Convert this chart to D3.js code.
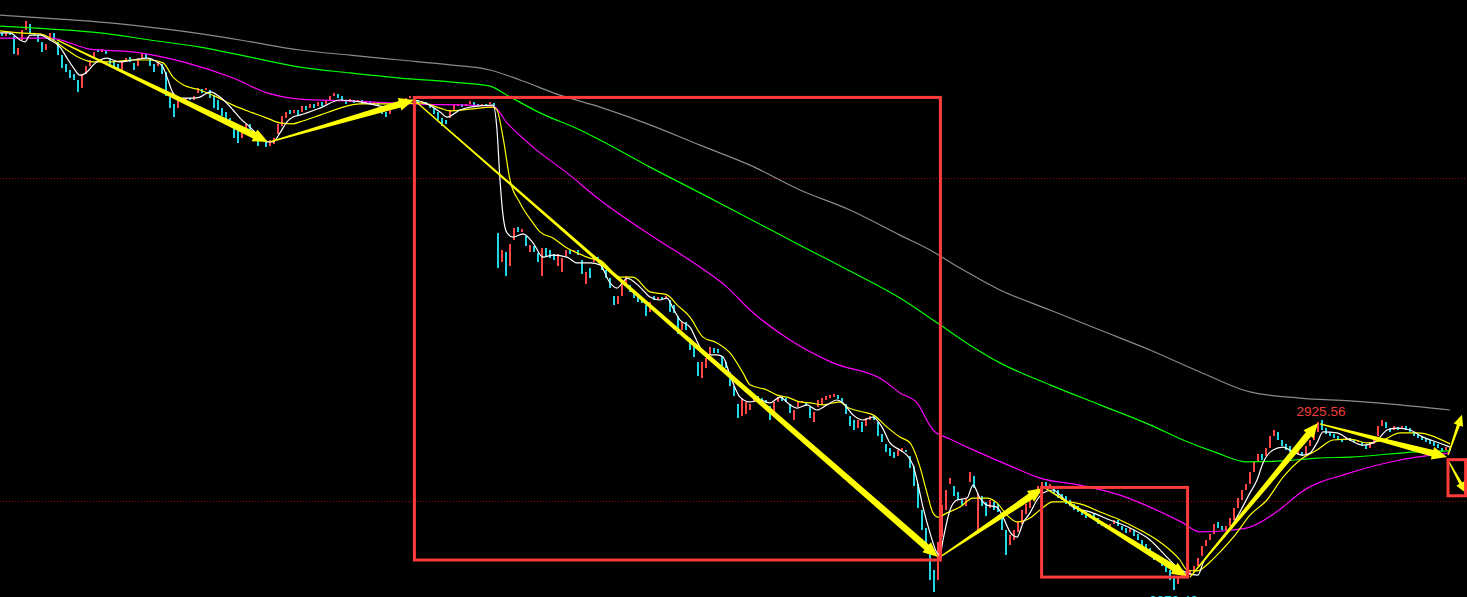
<!DOCTYPE html>
<html><head><meta charset="utf-8">
<script src="https://cdn.jsdelivr.net/npm/d3@7"></script>
<style>html,body{margin:0;padding:0;background:#000;overflow:hidden}</style>
</head><body>
<svg id="chart" width="1467" height="597"></svg>
<script>
// ---- candle data (one bar per index) ----
const opens = [
3045.1,3044.1,3045.1,3044.1,3038.2,3042.9,3046.0,3047.9,3045.1,3044.4,
3042.3,3039.8,3042.9,3045.1,3042.3,3038.2,3035.5,3033.6,3032.4,3030.5,
3028.0,3032.4,3034.8,3037.3,3039.8,3039.2,3039.8,3037.3,3036.1,3035.5,
3033.6,3036.1,3037.6,3035.8,3034.8,3037.3,3038.6,3037.3,3035.5,3034.8,
3035.5,3033.0,3025.2,3023.1,3021.8,3024.6,3024.3,3024.9,3024.3,3026.5,
3027.7,3027.4,3027.4,3025.8,3024.3,3021.8,3020.6,3018.7,3016.9,3015.0,
3012.5,3015.0,3016.9,3014.4,3013.1,3011.9,3011.9,3010.0,3010.7,3013.8,
3016.2,3018.7,3021.2,3020.3,3021.2,3020.6,3022.4,3021.8,3023.1,3022.4,
3023.7,3023.1,3024.3,3025.5,3026.2,3025.5,3024.3,3023.7,3024.3,3023.7,
3024.3,3023.4,3024.0,3023.1,3023.7,3022.4,3020.6,3020.0,3022.4,3023.7,
3023.1,3024.3,3024.9,3025.5,3024.3,3023.4,3023.7,3022.7,3021.8,3020.6,
3018.7,3018.1,3018.7,3021.2,3022.4,3023.1,3022.4,3023.1,3023.7,3023.1,
3022.4,3023.1,3023.1,3023.4,
2983.1,2974.1,2977.2,2972.8,2980.9,2984.9,
2983.4,2982.1,2977.2,2979.0,2976.9,2969.7,2978.4,2977.8,2976.6,2972.8,
2971.0,2975.9,2977.8,2977.2,2977.8,2974.7,2967.3,2972.2,2974.1,2975.6,
2974.1,2971.6,2969.1,2963.5,2961.1,2963.5,2967.6,2966.9,2964.8,2963.5,
2962.9,2960.7,2958.6,2963.5,2962.3,2963.2,2962.6,2962.3,2960.7,2957.3,
2953.0,2955.5,2950.5,2948.3,2943.1,2938.1,2941.2,2945.6,2947.4,2947.1,
2944.9,2943.1,2940.0,2935.6,2930.1,2926.3,2927.0,2928.2,2930.7,2932.5,
2931.9,2931.3,2929.4,2927.0,2930.7,2932.2,2931.9,2930.1,2925.1,2929.1,
2930.4,2930.7,2929.1,2924.5,2929.1,2930.1,2931.3,2931.9,2932.2,2932.8,
2931.9,2930.1,2926.3,2925.1,2922.6,2924.5,2923.2,2925.1,2926.3,2924.5,
2920.8,2917.7,2916.4,2915.2,2913.9,2915.2,2915.8,2913.9,2910.8,2905.3,
2897.2,2891.6,2885.4,2878.6,2875.5,2888.8,2897.2,2905.3,2904.6,2902.8,
2900.3,2898.4,2905.9,2907.7,2891.0,2901.5,2899.7,2897.8,2899.7,2899.1,
2895.3,2891.0,2886.3,2887.9,2890.4,2892.9,2896.0,2897.8,2900.9,2902.2,
2904.6,2905.9,2904.0,2904.6,2903.4,2902.2,2901.5,2900.3,2899.1,2898.4,
2897.2,2896.6,2894.7,2896.0,2894.7,2893.5,2892.9,2891.6,2892.9,2894.1,
2892.2,2891.6,2890.4,2891.0,2889.8,2887.9,2886.7,2885.4,2882.9,2881.7,
2882.3,2880.5,2878.6,2876.1,2874.3,2876.4,2876.7,2877.0,2878.0,2879.8,
2882.9,2886.0,2887.9,2889.8,2893.5,2892.2,2891.0,2892.2,2894.1,2897.8,
2900.3,2903.4,2905.3,2909.0,2912.1,2914.6,2913.9,2916.4,2920.1,2921.4,
2918.9,2917.7,2917.0,2915.8,2914.6,2915.2,2914.6,2917.0,2918.9,2921.4,
2925.1,2922.6,2921.4,2920.8,2920.1,2918.9,2918.9,2919.5,2918.9,2918.3,
2918.3,2917.3,2916.4,2917.7,2920.1,2923.2,2924.5,2922.6,2922.0,2922.9,
2922.6,2923.2,2922.6,2921.4,2920.8,2920.1,2919.5,2918.9,2918.3,2917.7,
2916.4,2915.8,2916.4];
const closes = [
3044.1,3045.1,3044.4,3038.6,3040.4,3046.0,3048.8,3044.8,3044.4,3042.3,
3039.2,3041.7,3045.1,3042.9,3038.2,3034.2,3033.0,3031.1,3030.5,3026.8,
3032.4,3034.8,3036.7,3039.2,3039.2,3040.1,3038.6,3034.8,3034.2,3033.6,
3036.1,3037.3,3036.1,3033.6,3037.3,3038.9,3037.3,3034.8,3033.0,3036.1,
3032.4,3025.5,3021.8,3019.0,3024.9,3023.7,3024.9,3024.3,3025.5,3028.0,
3026.5,3028.0,3024.9,3021.8,3021.2,3019.3,3017.5,3016.9,3012.5,3011.0,
3015.6,3016.9,3015.0,3011.9,3010.0,3013.1,3009.7,3011.9,3012.5,3016.9,
3019.3,3020.6,3020.0,3021.2,3019.6,3022.4,3021.2,3023.1,3021.8,3023.7,
3022.4,3024.3,3025.5,3026.5,3024.9,3024.3,3023.1,3024.6,3023.4,3024.3,
3023.1,3024.0,3023.1,3023.7,3022.4,3020.0,3019.0,3022.4,3023.7,3023.1,
3024.3,3024.9,3025.5,3024.3,3023.4,3024.0,3022.7,3021.8,3020.0,3018.1,
3016.2,3016.9,3021.2,3022.7,3023.1,3022.1,3023.1,3024.0,3022.7,3022.4,
3023.1,3022.4,3023.7,3022.1,
2972.2,2977.8,2969.7,2979.7,2984.6,2983.4,
2984.3,2979.0,2979.3,2977.2,2974.1,2978.4,2975.9,2975.3,2974.7,2976.6,
2975.3,2977.8,2976.6,2977.8,2976.2,2970.4,2971.0,2969.1,2975.3,2974.1,
2971.6,2969.1,2966.0,2960.7,2963.5,2967.6,2969.7,2964.8,2962.9,2961.7,
2961.4,2957.3,2961.7,2962.3,2963.2,2962.3,2963.5,2958.6,2958.3,2951.8,
2955.5,2953.0,2946.8,2944.6,2938.7,2943.1,2944.3,2947.7,2945.9,2945.9,
2941.8,2941.2,2935.6,2932.5,2925.7,2931.9,2930.7,2930.1,2933.2,2931.3,
2930.4,2930.4,2925.1,2930.7,2932.2,2931.0,2930.7,2927.3,2928.2,2930.7,
2931.0,2929.4,2925.7,2927.6,2931.3,2931.9,2932.5,2932.8,2933.2,2931.6,
2930.7,2927.0,2923.2,2922.0,2925.1,2921.4,2925.7,2926.3,2925.1,2920.1,
2918.3,2915.2,2913.9,2913.3,2915.8,2916.4,2915.2,2910.2,2904.6,2897.8,
2891.0,2884.2,2875.5,2871.8,2887.3,2898.7,2903.4,2907.1,2901.5,2900.3,
2898.7,2900.9,2909.0,2904.0,2902.2,2898.4,2895.3,2900.3,2897.2,2896.6,
2891.0,2883.2,2889.4,2891.0,2893.5,2897.2,2899.1,2900.3,2903.4,2904.6,
2905.9,2904.0,2905.3,2902.2,2900.9,2900.3,2899.1,2898.4,2897.2,2896.6,
2895.6,2894.7,2896.0,2894.1,2892.9,2892.2,2891.6,2892.9,2894.1,2892.2,
2891.0,2890.1,2891.6,2889.1,2887.9,2886.0,2884.2,2882.9,2881.7,2882.9,
2879.8,2878.0,2875.5,2872.4,2876.7,2877.4,2877.7,2878.6,2879.8,2882.3,
2886.0,2887.9,2889.8,2892.9,2891.6,2891.0,2892.2,2894.7,2897.8,2900.9,
2903.4,2905.3,2909.0,2912.1,2914.6,2912.7,2916.4,2920.1,2922.0,2918.9,
2917.0,2915.8,2915.2,2914.6,2916.4,2913.9,2917.0,2918.9,2921.4,2924.5,
2922.0,2920.8,2920.1,2919.5,2918.9,2918.3,2919.5,2918.6,2918.3,2918.9,
2917.0,2916.1,2918.3,2919.5,2923.2,2925.1,2922.6,2921.4,2923.2,2922.0,
2923.2,2922.0,2921.4,2920.1,2919.5,2918.9,2918.3,2917.7,2917.0,2916.4,
2915.2,2916.7,2915.5];

// ---- moving averages: [bar index, price] ----
const maWhite = [[-0.5,3045.1],[2,3045.1],[4.5,3042.9],[5.75,3042.3],[7,3044.4],[9.5,3044.4],[12,3042.9],[14.5,3040.7],[16.25,3037.3],[17.75,3034.5],[19.5,3032.0],[21.25,3033.0],[22.75,3035.1],[24.5,3036.7],[26.25,3037.3],[27.75,3036.7],[29.5,3036.1],[32.75,3036.7],[36.25,3037.3],[38.75,3036.1],[40.25,3034.5],[41.25,3031.4],[42.75,3026.5],[44.5,3024.9],[47.75,3024.9],[49.5,3025.2],[52,3026.8],[54.5,3025.2],[57.75,3021.2],[59.5,3018.7],[62,3015.9],[64.5,3012.8],[66.25,3011.3],[67.75,3011.3],[69.5,3014.1],[71.25,3017.5],[72.75,3019.0],[74.5,3019.6],[79.5,3021.8],[84.5,3024.3],[89.5,3023.7],[94.5,3022.4],[97,3021.8],[99.5,3023.1],[102.75,3024.3],[105.75,3023.4],[109.5,3020.6],[111.25,3019.0],[114.5,3021.2],[117,3022.1],[122.75,3022.7],[123.75,3015.0],[124.5,2999.5],[125.25,2988.6],[126.25,2983.1],[127.75,2981.8],[130.25,2982.8],[132.75,2980.0],[135.25,2975.6],[137.75,2976.2],[141.25,2975.6],[143.75,2973.8],[147,2973.8],[149.5,2973.2],[152,2967.6],[153.75,2966.0],[155.25,2967.9],[156.25,2969.1],[159.5,2966.3],[162,2963.2],[164.5,2962.3],[166.25,2962.9],[167.75,2959.8],[169.5,2956.1],[172,2953.9],[174.5,2947.7],[176.25,2945.3],[178.75,2945.3],[180.25,2944.6],[182,2939.0],[184.5,2932.2],[187,2930.7],[189.5,2931.3],[192,2930.4],[194.5,2932.2],[197,2929.8],[198.75,2928.8],[201.25,2929.8],[203.75,2928.2],[206.25,2929.8],[208.75,2931.3],[210.25,2930.4],[212.75,2926.7],[215.25,2925.1],[217.75,2926.0],[220,2922.9],[222,2918.0],[224.5,2915.8],[226.25,2914.2],[227.75,2911.1],[228.75,2906.5],[230.25,2898.1],[232,2890.1],[233.75,2883.9],[234.5,2883.2],[235.25,2887.9],[237,2897.2],[238.75,2900.3],[241.25,2900.9],[242.75,2904.9],[244.5,2900.9],[246.25,2898.7],[248.75,2898.1],[250.25,2895.0],[252,2890.4],[253.75,2888.8],[255.25,2893.2],[257,2896.3],[258.75,2900.3],[260.25,2902.5],[262.75,2903.4],[265.25,2900.9],[267.75,2898.1],[272,2896.6],[277,2894.1],[282,2891.6],[287,2887.9],[290.75,2883.2],[293.75,2879.5],[296.25,2877.7],[299,2877.0],[300.25,2880.8],[302,2883.9],[306.25,2890.1],[308.75,2895.0],[312,2902.5],[313.75,2906.5],[315.25,2911.8],[317.75,2915.8],[320.25,2916.7],[322.75,2915.2],[325.25,2914.2],[327,2914.9],[328.75,2918.0],[330.25,2921.4],[333.75,2921.1],[337,2918.9],[340.25,2917.3],[342.75,2918.0],[344.5,2919.8],[346.25,2922.0],[348.75,2922.6],[352,2922.0],[355.25,2919.8],[359.5,2917.9],[362,2916.7]];
const maYellow = [[-0.5,3045.7],[4.5,3045.1],[9.5,3044.8],[12.75,3042.9],[16.25,3039.8],[19.5,3037.3],[22.75,3036.1],[27,3036.1],[32.75,3036.7],[37,3036.7],[40.25,3035.8],[42.75,3031.4],[45.25,3029.0],[49.5,3027.4],[53.75,3025.2],[57.75,3022.7],[62.75,3020.3],[66.25,3018.7],[69.5,3017.2],[72.75,3016.9],[74.5,3017.5],[79.5,3019.6],[84.5,3021.8],[89.5,3023.1],[94.5,3023.1],[99.5,3023.1],[104.5,3023.4],[109.5,3021.8],[112,3020.9],[117,3021.5],[122.75,3022.1],[123.75,3021.2],[125.25,3012.8],[127,2999.5],[129.5,2992.4],[132.75,2986.2],[134.5,2983.4],[137.75,2981.5],[141.25,2978.4],[143.75,2976.9],[147,2975.3],[149.5,2974.7],[154.5,2969.4],[157.75,2969.4],[162,2964.8],[166.25,2963.9],[168.75,2960.8],[172,2957.0],[175.25,2950.8],[178.75,2949.0],[182,2945.9],[185.25,2939.7],[187,2936.0],[191.25,2934.4],[193.75,2932.8],[196.25,2932.2],[199.5,2930.7],[202,2930.4],[205.25,2929.8],[207.75,2930.4],[209.5,2930.7],[211.25,2929.1],[216.25,2927.3],[217.75,2926.7],[221.25,2922.9],[224.5,2919.8],[227,2918.0],[229.5,2910.5],[231.25,2902.5],[232.75,2896.3],[234,2895.0],[236.25,2896.3],[239.5,2898.1],[242.75,2900.9],[246.25,2900.9],[248.75,2899.4],[251.25,2895.6],[253.75,2893.5],[257,2894.7],[259.5,2897.2],[262.75,2899.7],[266.25,2899.7],[269.5,2899.1],[274.5,2896.6],[279.5,2894.1],[284.5,2891.0],[288.75,2887.9],[292,2884.8],[294.5,2881.7],[296.25,2878.6],[298.75,2878.3],[302,2881.1],[305,2884.8],[308.25,2889.4],[312,2895.6],[316.25,2900.3],[320.25,2907.4],[324.5,2912.7],[328.75,2915.8],[332.75,2918.9],[337,2919.2],[341.25,2918.0],[345.25,2918.9],[349.5,2921.1],[353.75,2921.1],[362,2917.7]];
const maMagenta = [[-0.5,3043.5],[12,3043.5],[22,3040.1],[32.75,3039.2],[45.25,3036.1],[57.75,3031.1],[66.25,3026.5],[74.5,3024.6],[87,3024.0],[102.75,3023.1],[122.75,3022.4],[126.25,3017.2],[132.75,3009.7],[141.25,3001.7],[149.5,2993.3],[162,2982.5],[174.5,2972.5],[181.25,2966.3],[187,2959.2],[197,2949.9],[207.75,2942.8],[220.25,2937.5],[224.5,2933.5],[228.75,2930.4],[232.75,2922.0],[237,2919.2],[244.5,2914.9],[252.75,2910.5],[259.5,2907.1],[269.5,2904.9],[279.5,2901.8],[287,2898.1],[295.25,2893.2],[299.5,2890.4],[307.75,2891.0],[312,2891.9],[320.25,2898.1],[324.5,2902.5],[337,2908.7],[349.5,2912.7],[362,2914.9]];
const maGreen = [[-0.5,3047.2],[12,3046.3],[24.5,3045.1],[37,3042.9],[49.5,3040.7],[62,3037.6],[74.5,3034.5],[87,3032.7],[99.5,3031.1],[112,3029.9],[122,3028.6],[126.25,3025.8],[134.5,3020.3],[144.5,3015.0],[149.5,3011.9],[162,3003.5],[174.5,2995.5],[187,2987.4],[199.5,2979.3],[212,2971.3],[224.5,2962.9],[234.5,2954.6],[242,2948.3],[249.5,2942.8],[262,2936.0],[274.5,2929.8],[287,2923.6],[295.25,2918.9],[303.75,2914.9],[311.25,2912.1],[320.25,2912.4],[328.75,2913.3],[337,2913.6],[353.75,2915.2],[362,2915.5]];
const maGray = [[-0.5,3050.6],[14.5,3049.4],[29.5,3047.9],[44.5,3045.7],[59.5,3042.9],[74.5,3039.8],[87,3038.2],[99.5,3036.7],[112,3035.2],[122,3033.6],[129.5,3030.5],[139.5,3025.8],[149.5,3022.1],[162,3016.6],[174.5,3010.3],[187,3004.1],[199.5,2996.4],[212,2990.2],[224.5,2982.4],[232,2977.8],[239.5,2972.2],[249.5,2965.4],[262,2959.2],[274.5,2953.0],[287,2946.8],[299.5,2940.0],[312,2933.8],[324.5,2931.9],[337,2931.0],[349.5,2929.8],[362,2928.2]];

// ---- annotations (in bar index / price units) ----
const gridLevels = [3000, 2900];
const arrows = [
  [13.75,3042.9, 66.5,3011.3],
  [67,3011.3, 103,3024.3],
  [103,3024.3, 234,2882.6],
  [234.5,2882.6, 260.25,2904.0],
  [260.75,2904.0, 296.25,2876.7],
  [297,2876.4, 329,2924.2],
  [329.5,2923.9, 361.25,2913.6],
  [361.5,2914.2, 365,2926.7],
  [361.75,2912.1, 366,2902.5]
];
const boxes = [
  [103.1,3025.1, 234.6,2881.7],
  [259.9,2904.2, 296.4,2876.4],
  [361.5,2912.8, 365.9,2901.6]
];
const priceLabels = [
  {i:329.75, value:2925.56, text:"2925.56", kind:"high"},
  {i:292.9, value:2872.40, text:"2872.40", kind:"low"}
];

// ---- drawing ----
const W = 1467, H = 597;
const svg = d3.select("#chart");
svg.append("rect").attr("width",W).attr("height",H).attr("fill","#000");

const xs = d3.scaleLinear().domain([0, 362]).range([2, 1450]);
const ys = d3.scaleLinear().domain([2869.3, 3055.3]).range([600, 0]);

// grid
svg.selectAll("line.grid").data(gridLevels).join("line")
  .attr("x1",0).attr("x2",W)
  .attr("y1",d=>Math.round(ys(d))+0.5).attr("y2",d=>Math.round(ys(d))+0.5)
  .attr("stroke","#9a0e0e").attr("stroke-width",1).attr("stroke-dasharray","1,2");

// candles
const bars = opens.map((o,i)=>({i, o, c: closes[i]}));
svg.append("g").selectAll("rect").data(bars).join("rect")
  .attr("x", d=>Math.round(xs(d.i))-1)
  .attr("width", 2)
  .attr("y", d=>Math.round(ys(Math.max(d.o,d.c))))
  .attr("height", d=>Math.max(1, Math.round(Math.abs(ys(d.o)-ys(d.c)))))
  .attr("fill", d=> d.c>d.o ? "#ff4545" : "#22d6e6")
  .attr("shape-rendering","crispEdges");

// moving averages
const line = d3.line().x(d=>xs(d[0])).y(d=>ys(d[1])).curve(d3.curveMonotoneX);
const maList = [
  {data:maGray, color:"#8a8a8a"},
  {data:maGreen, color:"#00ff00"},
  {data:maMagenta, color:"#ff00ff"},
  {data:maYellow, color:"#ffff00"},
  {data:maWhite, color:"#ffffff"}
];
svg.append("g").selectAll("path").data(maList).join("path")
  .attr("d", d=>line(d.data)).attr("fill","none")
  .attr("stroke", d=>d.color).attr("stroke-width",1.2);

// arrows (tapered shaft + head)
function arrowPath(a){
  const x0=xs(a[0]), y0=ys(a[1]), x1=xs(a[2]), y1=ys(a[3]);
  const dx=x1-x0, dy=y1-y0, L=Math.hypot(dx,dy);
  const ux=dx/L, uy=dy/L, nx=-uy, ny=ux;
  const small = L < 60;
  const tailW = 0.6, shaftW = small?1.6:3.4, headW = small?5:6.5, headL = small?11:15;
  const bx=x1-ux*headL, by=y1-uy*headL;
  const pts = [
    [x0+nx*tailW, y0+ny*tailW],
    [bx+nx*shaftW, by+ny*shaftW],
    [bx+nx*headW, by+ny*headW],
    [x1, y1],
    [bx-nx*headW, by-ny*headW],
    [bx-nx*shaftW, by-ny*shaftW],
    [x0-nx*tailW, y0-ny*tailW]
  ];
  return "M"+pts.map(p=>p[0].toFixed(2)+","+p[1].toFixed(2)).join("L")+"Z";
}
svg.append("g").selectAll("path").data(arrows).join("path")
  .attr("d", arrowPath).attr("fill","#ffff00");

// boxes
svg.append("g").selectAll("rect").data(boxes).join("rect")
  .attr("x", d=>xs(d[0])).attr("y", d=>ys(d[1]))
  .attr("width", d=>xs(d[2])-xs(d[0])).attr("height", d=>ys(d[3])-ys(d[1]))
  .attr("fill","none").attr("stroke","#ff3b3b").attr("stroke-width",3);

// price labels
svg.append("g").selectAll("text").data(priceLabels).join("text")
  .attr("x", d=>xs(d.i))
  .attr("y", d=> d.kind==="high" ? ys(d.value)-2.5 : ys(d.value)+15)
  .attr("text-anchor","middle")
  .attr("font-family","Liberation Sans, Arial, sans-serif")
  .attr("font-size", 13.5)
  .attr("fill", d=> d.kind==="high" ? "#f23c3c" : "#19d9e9")
  .text(d=>d.text);
</script>
</body></html>
